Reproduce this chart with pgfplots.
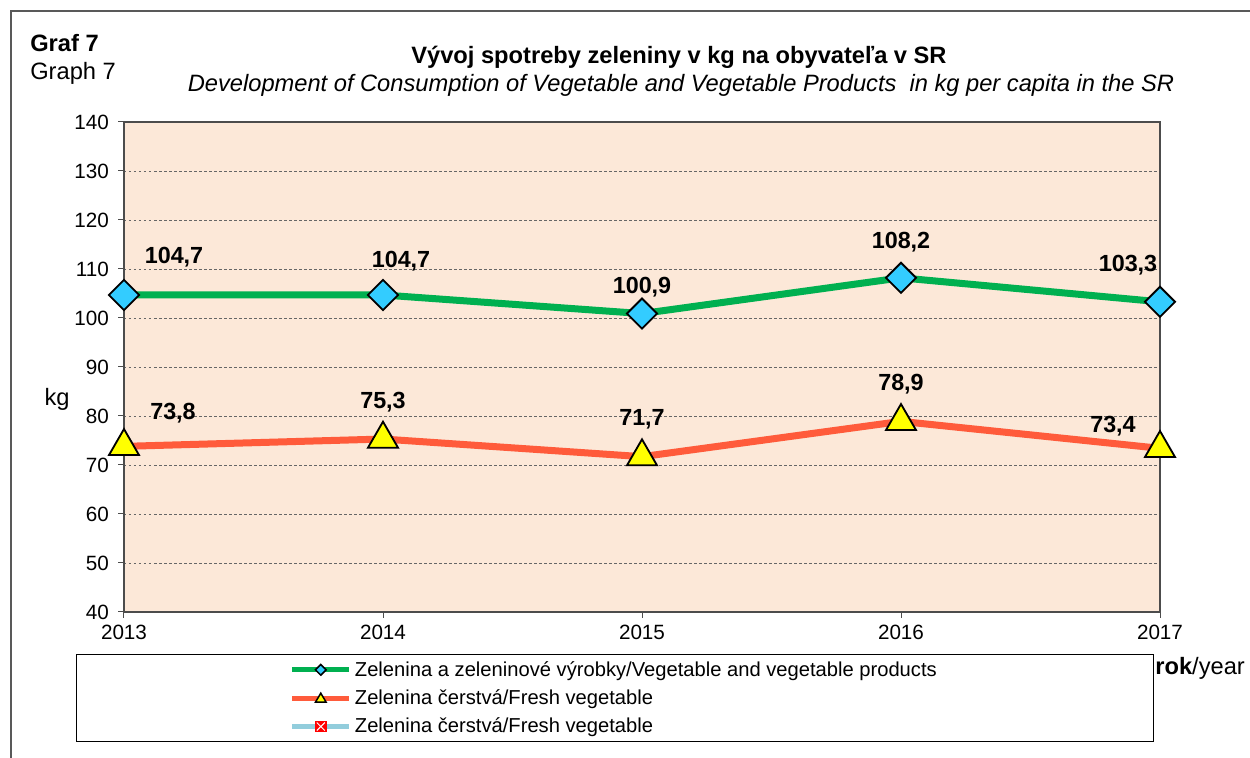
\documentclass[border=0pt]{standalone}
\usepackage{fontspec}
\setmainfont{Liberation Sans}
\usepackage{pgfplots}
\usepackage{pgfplotstable}
\pgfplotsset{compat=1.18}

\definecolor{cGreen}{HTML}{00B050}
\definecolor{cRed}{HTML}{FF5B3B}
\definecolor{cBlue}{HTML}{33CCFF}
\definecolor{cYellow}{HTML}{FFFF00}
\definecolor{cBg}{HTML}{FCE8D8}
\definecolor{cLight}{HTML}{92CDDC}

% dx, dy: label offset in px (dy upward)
\pgfplotstableread{
x    y     dx   dy
2013 104.7 50   38
2014 104.7 18   34
2015 100.9 0    26
2016 108.2 0    36
2017 103.3 -32  37
}\greendata
\pgfplotstableread{
x    y    dx   dy
2013 73.8 49   33
2014 75.3 0    37
2015 71.7 0    37
2016 78.9 0    37
2017 73.4 -47  22
}\reddata

\begin{document}
\begin{tikzpicture}
\path[use as bounding box] (0,0) rectangle (750pt,454.8pt);
\begin{scope}[x=0.6pt,y=-0.6pt,shift={(0pt,454.8pt)}]
\draw[gray!70!black, line width=0.8pt] (11,758) -- (11,11) -- (1250,11);
\node[anchor=base west, inner sep=0pt, font=\bfseries\fontsize{14.2}{16}\selectfont] at (30,52) {Graf 7};
\node[anchor=base west, inner sep=0pt, font=\fontsize{14.2}{16}\selectfont] at (30,80) {Graph 7};
\node[anchor=base, inner sep=0pt, font=\bfseries\fontsize{14.2}{16}\selectfont] at (679,64) {Vývoj spotreby zeleniny v kg na obyvateľa v SR};
\node[anchor=base, inner sep=0pt, font=\itshape\fontsize{14.2}{16}\selectfont] at (681,92) {Development of Consumption of Vegetable and Vegetable Products\ \ in kg per capita in the SR};
\node[font=\fontsize{14.2}{16}\selectfont] at (57,399) {kg};
\node[anchor=west, inner sep=0pt, font=\fontsize{14.2}{16}\selectfont] at (1155,668) {\textbf{rok}/year};
\end{scope}

\begin{axis}[
  at={(74.4pt,87.6pt)}, anchor=south west,
  scale only axis, width=621.6pt, height=294pt,
  xmin=2013, xmax=2017, ymin=40, ymax=140,
  xtick={2013,2014,2015,2016,2017}, ytick distance=10,
  /pgf/number format/assume math mode=true,
  /pgf/number format/1000 sep={},
  tick label style={font=\fontsize{12.4}{14}\selectfont},
  yticklabel style={xshift=-2pt},
  xticklabel style={yshift=-1pt},
  tick align=outside, major tick length=3.6pt,
  tick style={gray!60!black, line width=0.6pt},
  xtick pos=bottom, ytick pos=left,
  axis line style={gray!60!black, line width=0.8pt},
  ymajorgrids, major grid style={gray!80!black, line width=0.4pt, dash pattern=on 1.5pt off 1.5pt},
  axis background/.style={fill=cBg},
  clip=false,
  visualization depends on={\thisrow{dx} \as \dx},
  visualization depends on={\thisrow{dy} \as \dy},
  nodes near coords={\pgfmathprintnumber[fixed,fixed zerofill,precision=1,use comma]{\pgfplotspointmeta}},
  nodes near coords style={font=\bfseries\fontsize{14}{16}\selectfont, anchor=center, xshift={\dx*0.6pt}, yshift={\dy*0.6pt}, text=black},
  legend style={at={(rel axis cs:0.474,0)}, yshift=-25.2pt, anchor=north, draw=black, fill=white,
    font=\fontsize{12.1}{14}\selectfont, inner xsep=128pt, inner ysep=2pt, row sep=2.6pt,
    line width=0.6pt},
  legend cell align=left,
]
\addplot[cGreen, line width=4.2pt, mark=square*, mark size=6.4pt,
  mark options={rotate=45, fill=cBlue, draw=black, line width=1.1pt},
  legend image code/.code={
    \draw[cGreen, line width=3pt] (0pt,0pt) -- (34pt,0pt);
    \draw[black, fill=cBlue, line width=0.9pt] (17pt,0pt) +(-3.2pt,0) -- +(0,3.2pt) -- +(3.2pt,0) -- +(0,-3.2pt) -- cycle;
  }] table[x=x, y=y] {\greendata};
\addlegendentry{Zelenina a zeleninové výrobky/Vegetable and vegetable products}
\addplot[cRed, line width=4.2pt, mark=triangle*, mark size=10.4pt,
  mark options={fill=cYellow, draw=black, line width=1.1pt},
  legend image code/.code={
    \draw[cRed, line width=3pt] (0pt,0pt) -- (34pt,0pt);
    \draw[black, fill=cYellow, line width=0.9pt] (17pt,0pt) +(-3.2pt,-2.4pt) -- +(0,3pt) -- +(3.2pt,-2.4pt) -- cycle;
  }] table[x=x, y=y] {\reddata};
\addlegendentry{Zelenina čerstvá/Fresh vegetable}
\addlegendimage{legend image code/.code={
    \draw[cLight, line width=3pt] (0pt,0pt) -- (34pt,0pt);
    \fill[red] (13.8pt,-3.2pt) rectangle (20.2pt,3.2pt);
    \draw[white, line width=0.6pt] (14.6pt,-2.4pt) -- (19.4pt,2.4pt) (14.6pt,2.4pt) -- (19.4pt,-2.4pt);
  }}
\addlegendentry{Zelenina čerstvá/Fresh vegetable}
\end{axis}
\end{tikzpicture}
\end{document}
